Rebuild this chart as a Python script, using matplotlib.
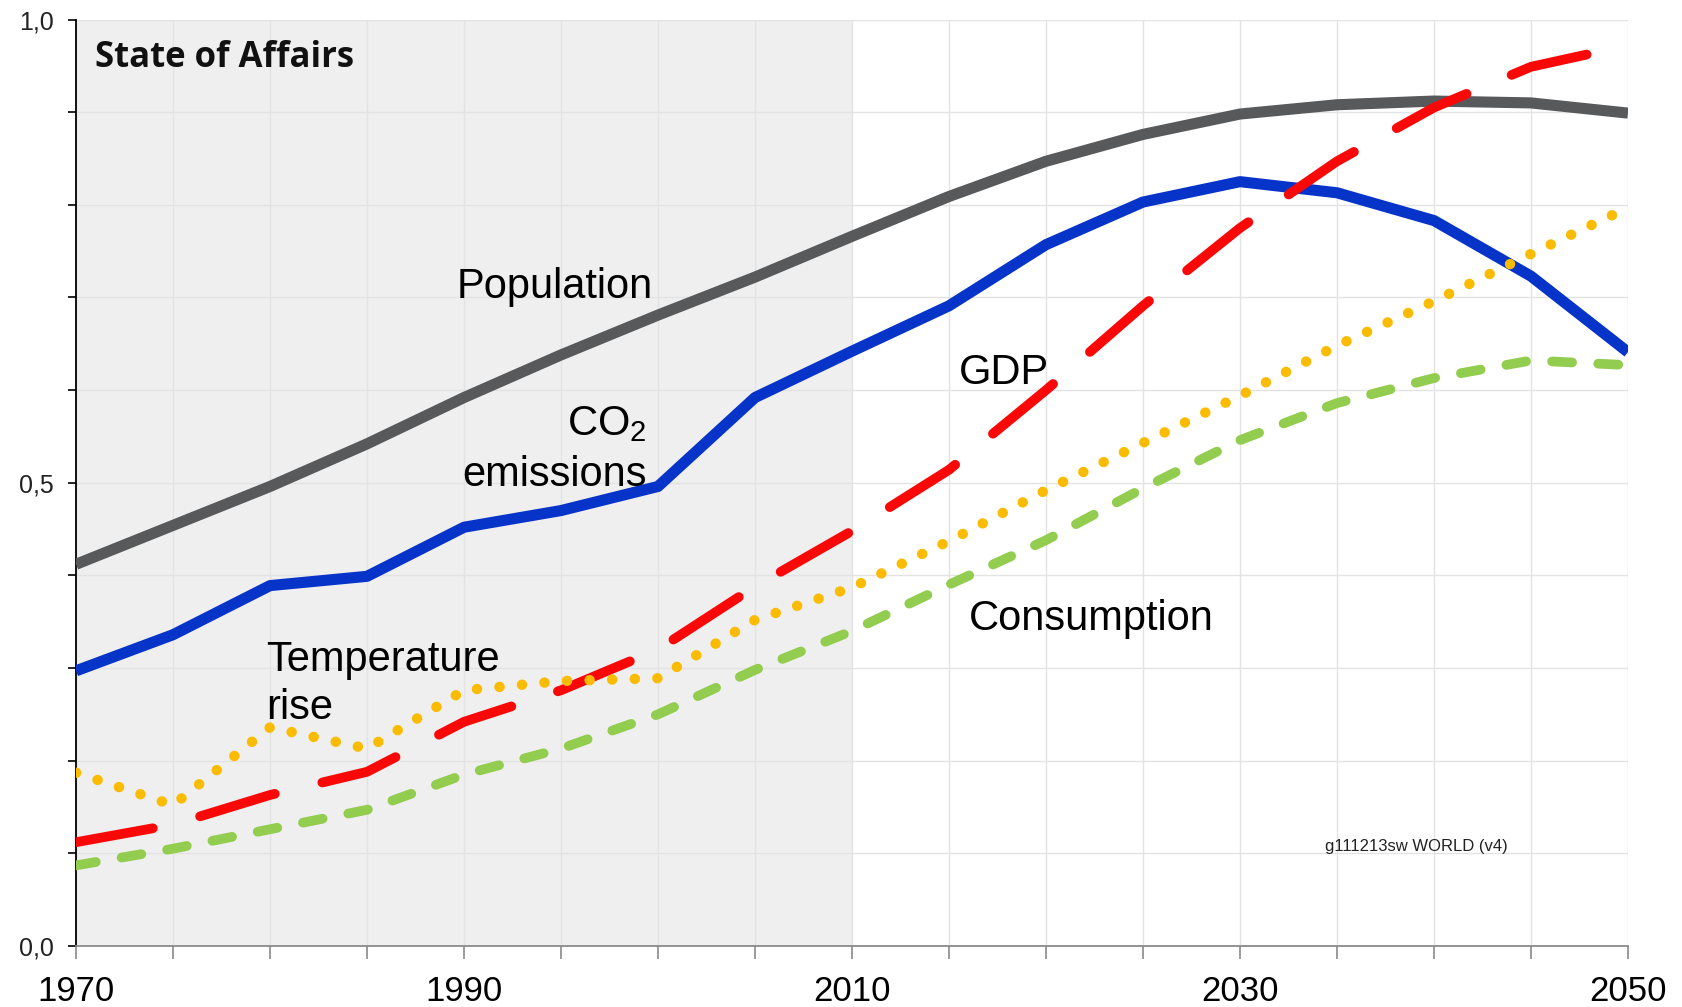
import matplotlib
matplotlib.use("Agg")
import matplotlib.pyplot as plt
from matplotlib.ticker import MultipleLocator, FuncFormatter

# Scenario series, normalised to 0..1, every five years
years = [1970, 1975, 1980, 1985, 1990, 1995, 2000, 2005, 2010,
         2015, 2020, 2025, 2030, 2035, 2040, 2045, 2050]
population = [0.412, 0.454, 0.496, 0.542, 0.592, 0.638, 0.681, 0.722, 0.766,
              0.809, 0.847, 0.876, 0.898, 0.908, 0.912, 0.910, 0.899]
co2_emissions = [0.297, 0.336, 0.389, 0.399, 0.452, 0.470, 0.496, 0.592, 0.642,
                 0.691, 0.757, 0.803, 0.825, 0.813, 0.783, 0.723, 0.641]
gdp = [0.112, 0.131, 0.163, 0.188, 0.242, 0.276, 0.320, 0.388, 0.448,
       0.514, 0.600, 0.691, 0.775, 0.847, 0.905, 0.949, 0.972]
temperature_rise = [0.187, 0.152, 0.236, 0.213, 0.276, 0.286, 0.289, 0.352, 0.387,
                    0.437, 0.492, 0.543, 0.594, 0.648, 0.696, 0.747, 0.797]
consumption = [0.087, 0.105, 0.126, 0.147, 0.185, 0.213, 0.250, 0.298, 0.340,
               0.390, 0.438, 0.494, 0.546, 0.586, 0.613, 0.632, 0.627]

x_tick_labels = ["1970", "1990", "2010", "2030", "2050"]
y_tick_labels = {0.0: "0,0", 0.5: "0,5", 1.0: "1,0"}
history_span = (1970, 2010)

LABEL_FONT = ["Liberation Sans", "DejaVu Sans"]

fig = plt.figure(figsize=(16.83, 10.07), dpi=100)
ax = fig.add_axes([0.0452, 0.0606, 0.9221, 0.9200])

ax.set_xlim(1970, 2050)
ax.set_ylim(0, 1.0)

# historical period shading
ax.axvspan(*history_span, color="#efefef", zorder=0, lw=0)

ax.xaxis.set_major_locator(MultipleLocator(5))
ax.yaxis.set_major_locator(MultipleLocator(0.1))
ax.grid(True, color="#e3e3e3", lw=1.0, zorder=1)
ax.set_axisbelow(True)

ax.xaxis.set_major_formatter(FuncFormatter(
    lambda v, p: str(int(round(v))) if str(int(round(v))) in x_tick_labels else ""))
ax.yaxis.set_major_formatter(FuncFormatter(
    lambda v, p: y_tick_labels.get(round(v, 2), "")))

for s in ("top", "right"):
    ax.spines[s].set_visible(False)
ax.spines["left"].set_color("#000000")
ax.spines["left"].set_linewidth(1.3)
ax.spines["bottom"].set_color("#8a8a8a")
ax.spines["bottom"].set_linewidth(1.3)

ax.tick_params(axis="x", length=9, width=1.2, color="#8a8a8a", pad=12,
               labelsize=25, labelcolor="#000000")
ax.tick_params(axis="y", length=6, width=1.2, color="#000000", pad=10,
               labelsize=18, labelcolor="#222222")
for lab in ax.get_xticklabels() + ax.get_yticklabels():
    lab.set_family(LABEL_FONT)

# series
ax.plot(years, population, color="#58595b", lw=8, solid_capstyle="butt",
        solid_joinstyle="round", zorder=3)
ax.plot(years, co2_emissions, color="#0633c8", lw=8, solid_capstyle="butt",
        solid_joinstyle="round", zorder=3)
ax.plot(years, gdp, color="#fa0808", lw=7, linestyle=(0, (8.02, 5.03)),
        dash_capstyle="round", dash_joinstyle="round", zorder=3)
ax.plot(years, consumption, color="#92cd50", lw=7, linestyle=(0, (2.06, 2.69)),
        dash_capstyle="round", dash_joinstyle="round", zorder=3)
ax.plot(years, temperature_rise, color="#fabb00", lw=7.5, linestyle=(0, (0.01, 2.16)),
        dash_capstyle="round", zorder=4)

# series labels
lab_kw = dict(fontsize=30, family=LABEL_FONT, color="#000000", va="baseline", zorder=5)
ax.text(1989.6, 0.699, "Population", ha="left", **lab_kw)
ax.text(2015.5, 0.607, "GDP", ha="left", **lab_kw)
ax.text(1999.4, 0.551, r"CO$\mathregular{_2}$", ha="right", **lab_kw)
ax.text(1999.4, 0.497, "emissions", ha="right", **lab_kw)
ax.text(1979.8, 0.297, "Temperature", ha="left", **lab_kw)
ax.text(1979.8, 0.245, "rise", ha="left", **lab_kw)
ax.text(2016.0, 0.341, "Consumption", ha="left", **lab_kw)

ax.text(0.0119, 0.949, "State of Affairs", transform=ax.transAxes,
        fontsize=25, fontweight="bold", family=["Open Sans", "DejaVu Sans"],
        ha="left", va="baseline", color="#111111", zorder=5)

ax.text(2034.4, 0.1025, "g111213sw WORLD (v4)",
        fontsize=12, family=["Liberation Sans Narrow", "Liberation Sans"],
        ha="left", va="baseline", color="#222222", zorder=5)

fig.savefig("out.png", dpi=100, facecolor="white")
